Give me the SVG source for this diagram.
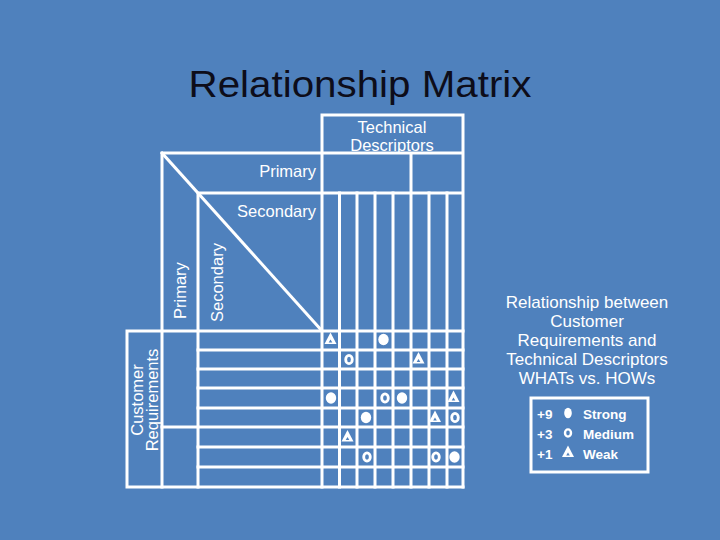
<svg xmlns="http://www.w3.org/2000/svg" xmlns:xlink="http://www.w3.org/1999/xlink" width="720" height="540" viewBox="0 0 720 540">
<style>
.ln{stroke:#fff;stroke-width:3;fill:none;stroke-linecap:square}
.t{font-family:"Liberation Sans",Arial,sans-serif;fill:#fff;font-size:16.5px}
.d{font-size:17px}
.lg{font-family:"Liberation Sans",Arial,sans-serif;fill:#fff;font-size:13.5px;font-weight:bold}
</style>
<defs>
<g id="strong"><ellipse cx="0" cy="0" rx="5.2" ry="5.8" fill="#fff"/></g>
<g id="medium"><ellipse cx="0" cy="0" rx="3.3" ry="4.1" fill="none" stroke="#fff" stroke-width="2.8"/></g>
<g id="weak"><polygon points="0,-6.5 6,5 -6,5" fill="#fff"/><polygon points="0,0.5 1.8,3.4 -1.8,3.4" fill="#4F81BD"/></g>
</defs>
<rect width="720" height="540" fill="#4F81BD"/>
<text x="360" y="97" font-family="'Liberation Sans',Arial,sans-serif" font-size="36" fill="#0d0d1a" text-anchor="middle" textLength="343" lengthAdjust="spacingAndGlyphs">Relationship Matrix</text>

<g id="grid" class="ln">
<path d="M322,115 H463 V487 M322,115 V487 M162,153 H463 M198,193 H463 M162,153 V487 M198,193 V487 M411,153 V487"/>
<path d="M339.5,193 V487 M357,193 V487 M375,193 V487 M393,193 V487 M429,193 V487 M447,193 V487"/>
<path d="M162,153 L322,331"/>
<path d="M127,331 H463 M127,487 H463 M127,331 V487 M162,427 H463"/>
<path d="M198,350 H463 M198,369 H463 M198,388 H463 M198,408 H463 M198,447 H463 M198,467 H463"/>
</g>

<g id="labels">
<text class="t" x="392" y="133" text-anchor="middle">Technical</text>
<text class="t" x="392" y="151" text-anchor="middle">Descriptors</text>
<text class="t" x="316" y="177" text-anchor="end">Primary</text>
<text class="t" x="316" y="217" text-anchor="end">Secondary</text>
<text class="t" transform="translate(186,319) rotate(-90)">Primary</text>
<text class="t" transform="translate(223,322) rotate(-90)">Secondary</text>
<text class="t" transform="translate(143,400) rotate(-90)" text-anchor="middle">Customer</text>
<text class="t" transform="translate(158,400) rotate(-90)" text-anchor="middle">Requirements</text>
</g>

<g id="symbols">
<use xlink:href="#weak" x="330.5" y="339"/>
<use xlink:href="#strong" x="383.5" y="339.5"/>
<use xlink:href="#medium" x="349" y="359.5"/>
<use xlink:href="#weak" x="418.5" y="358.5"/>
<use xlink:href="#strong" x="331" y="398"/>
<use xlink:href="#medium" x="385" y="398"/>
<use xlink:href="#strong" x="402" y="398"/>
<use xlink:href="#weak" x="453.5" y="397"/>
<use xlink:href="#strong" x="366" y="417.5"/>
<use xlink:href="#weak" x="435" y="417"/>
<use xlink:href="#medium" x="455" y="417.5"/>
<use xlink:href="#weak" x="347.5" y="436.5"/>
<use xlink:href="#medium" x="367" y="457"/>
<use xlink:href="#medium" x="436" y="457"/>
<use xlink:href="#strong" x="454.5" y="457"/>
</g>

<g id="description">
<text class="t d" x="587" y="308" text-anchor="middle">Relationship between</text>
<text class="t d" x="587" y="327" text-anchor="middle">Customer</text>
<text class="t d" x="587" y="346" text-anchor="middle">Requirements and</text>
<text class="t d" x="587" y="365" text-anchor="middle">Technical Descriptors</text>
<text class="t d" x="587" y="384" text-anchor="middle">WHATs vs. HOWs</text>
</g>

<g id="legend">
<rect x="531" y="398" width="117" height="74" class="ln"/>
<text class="lg" x="537" y="419">+9</text>
<text class="lg" x="537" y="439">+3</text>
<text class="lg" x="537" y="459">+1</text>
<ellipse cx="568" cy="413" rx="3.8" ry="5.2" fill="#fff"/>
<ellipse cx="568" cy="433" rx="3" ry="3.6" fill="none" stroke="#fff" stroke-width="2.4"/>
<use xlink:href="#weak" x="568" y="452"/>
<text class="lg" x="583" y="419">Strong</text>
<text class="lg" x="583" y="439">Medium</text>
<text class="lg" x="583" y="459">Weak</text>
</g>
</svg>
